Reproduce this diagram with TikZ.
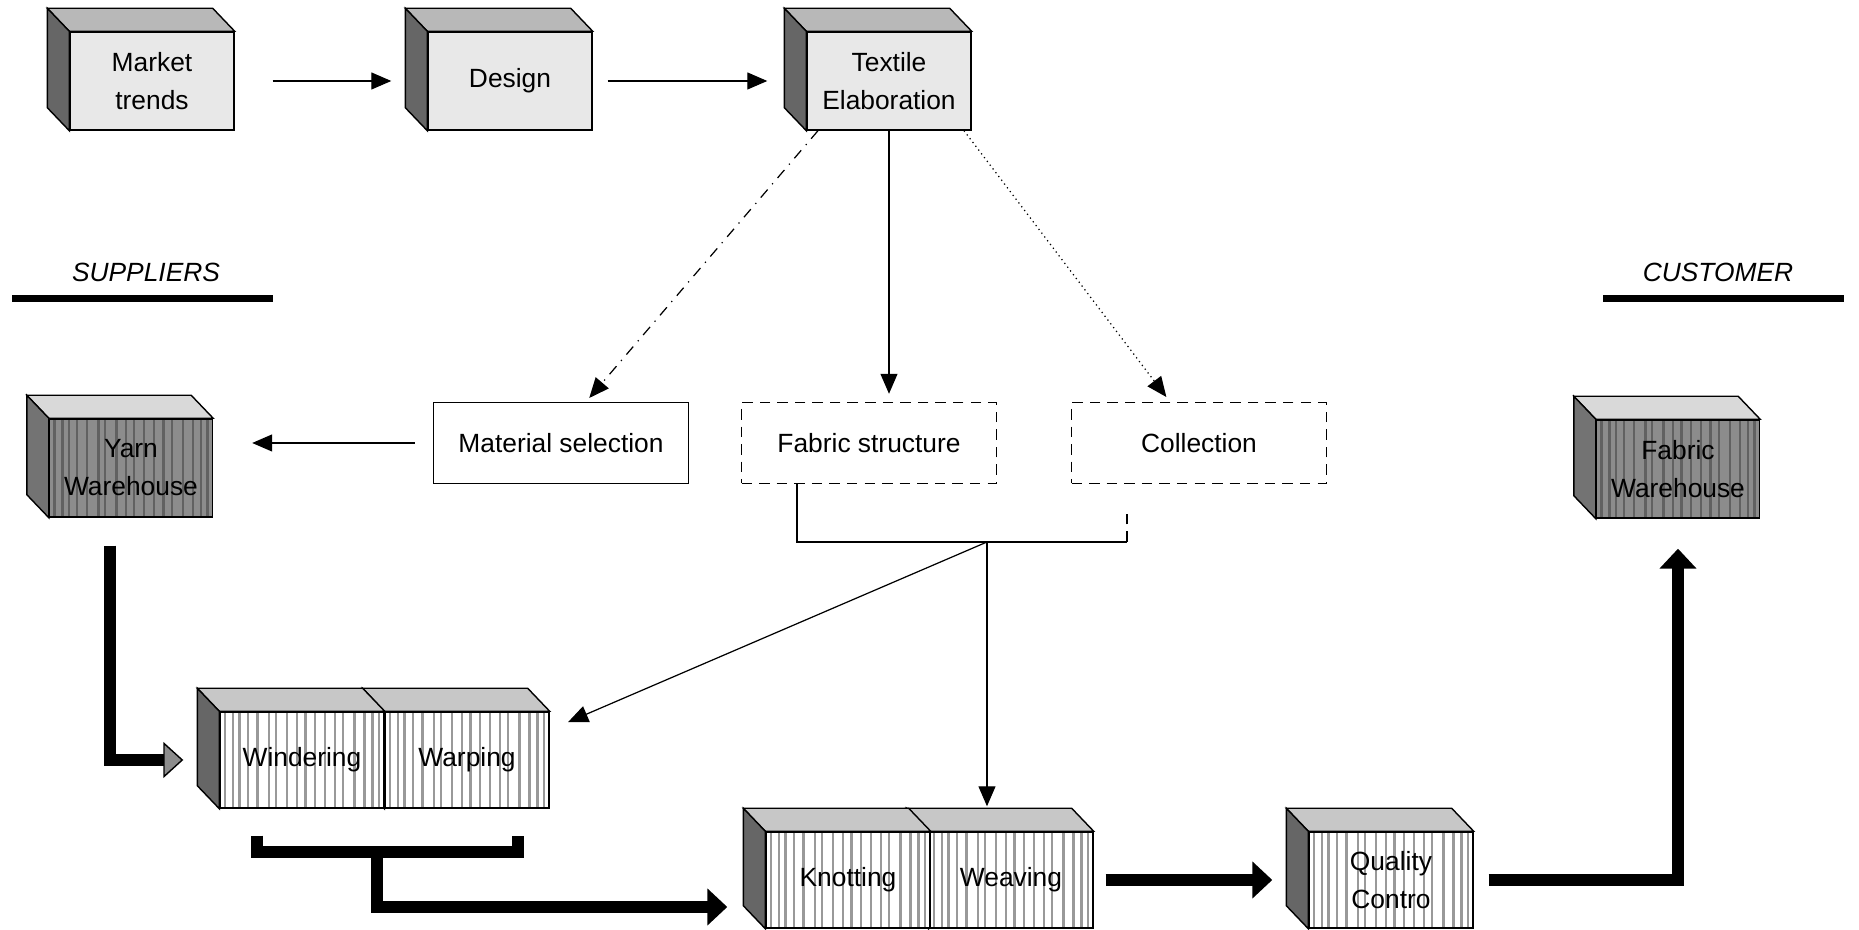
\documentclass[tikz,border=0pt]{standalone}
\usepackage{fontspec}
\setmainfont{Liberation Sans}
\usetikzlibrary{arrows.meta,calc}

\tikzset{
  face/.style={draw, line width=0.4pt, inner sep=0pt, align=center},
  stripes/.style={path picture={
      \foreach \s in {0.03,0.08,0.12,0.17,0.23,0.3,0.34,0.41,0.47,0.52,0.58,0.64,0.7,0.75,0.82,0.88,0.93,0.97}
        \draw[#1, line width=0.7pt] ($(path picture bounding box.south west)!\s!(path picture bounding box.south east)$)
          -- ($(path picture bounding box.north west)!\s!(path picture bounding box.north east)$);}},
  plainbox/.style={face, minimum width=25.5mm, minimum height=8.1mm},
  topbox/.style={face, fill=black!9, minimum width=16.4mm, minimum height=9.8mm},
  loombox/.style={face, fill=white, minimum width=16.4mm, minimum height=9.6mm, stripes=black!40},
  storebox/.style={face, fill=black!45, minimum width=16.3mm, minimum height=9.8mm, stripes=black!62},
  link/.style={line width=0.35pt, -{Triangle[length=2mm,width=1.7mm]}},
  flow/.style={line width=3.4pt, line join=miter},
  flowarrow/.style={flow, -{Triangle[length=2mm,width=3.6mm]}},
  header/.style={font=\fontsize{7.5}{9}\selectfont\itshape},
  underbar/.style={line width=2pt}
}

% top and left faces of a box, drawn from its front node
\newcommand\cubefaces[3]{%
  \filldraw[fill=#2, line width=0.4pt] (#1.north west) -- ++(-22,-23)
    -- ($(#1.north east)+(-22,-23)$) -- (#1.north east) -- cycle;
  \filldraw[fill=#3, line width=0.4pt] (#1.north west) -- ++(-22,-23)
    -- ($(#1.south west)+(-22,-23)$) -- (#1.south west) -- cycle;}

\begin{document}
\begin{tikzpicture}[x=0.1mm, y=-0.1mm, font=\fontsize{7.5}{10.8}\selectfont]
  \useasboundingbox (0,0) rectangle (1859,930);

  % top row
  \node[topbox] (mkt) at (152,81) {Market\\trends};
  \cubefaces{mkt}{black!28}{black!60}
  \node[topbox] (dsg) at (510,81) {Design};
  \cubefaces{dsg}{black!28}{black!60}
  \node[topbox] (tex) at (889,81) {Textile\\Elaboration};
  \cubefaces{tex}{black!28}{black!60}
  \draw[link, shorten <=3.8mm, shorten >=3.6mm] (mkt) -- (dsg);
  \draw[link, shorten <=1.5mm, shorten >=3.9mm] (dsg) -- (tex);

  % sides
  \node[header] (sup) at (146,272) {SUPPLIERS};
  \node[header] (cus) at (1718,272) {CUSTOMER};
  \draw[underbar] (12,299) -- (273,299);
  \draw[underbar] (1603,299) -- (1844,299);

  % planning boxes
  \node[plainbox] (mat) at (561,443) {Material selection};
  \node[plainbox, densely dashed] (fab) at (869,443) {Fabric structure};
  \node[plainbox, densely dashed] (col) at (1199,443) {Collection};
  \draw[link, dash dot, shorten >=0.5mm] ([xshift=-7.1mm]tex.south) -- ([xshift=2.5mm]mat.north);
  \draw[link, shorten >=0.8mm] (tex.south) -- (tex.south |- fab.north);
  \draw[link, densely dotted, shorten >=0.6mm] ([xshift=7.5mm]tex.south) -- ([xshift=-2.9mm]col.north);

  % warehouses
  \node[storebox] (yarn) at (131,468) {Yarn\\Warehouse};
  \cubefaces{yarn}{black!15}{black!55}
  \node[storebox] (fwh) at (1678,469) {Fabric\\Warehouse};
  \cubefaces{fwh}{black!15}{black!55}
  \draw[link, shorten <=1.8mm, shorten >=3.9mm] (mat.west) -- (mat.west -| yarn.east);

  % production
  \node[loombox] (wrp) at (467,760) {Warping};
  \cubefaces{wrp}{black!22}{black!60}
  \node[loombox] (wnd) at (302,760) {Windering};
  \cubefaces{wnd}{black!22}{black!60}
  \node[loombox] (wea) at (1011,880) {Weaving};
  \cubefaces{wea}{black!22}{black!60}
  \node[loombox] (knt) at (848,880) {Knotting};
  \cubefaces{knt}{black!22}{black!60}
  \node[loombox] (qc) at (1391,880) {Quality\\Contro};
  \cubefaces{qc}{black!22}{black!60}

  % fork under the planning boxes
  \coordinate (fabarm) at ([xshift=-7.2mm]fab.south);
  \coordinate (colarm) at ([xshift=-7.2mm,yshift=-2.3mm]col.south);
  \coordinate (fork) at (987,542);
  \draw[line width=0.35pt] (fabarm) |- (fork) -- (fork -| colarm);
  \draw[line width=0.35pt, densely dashed] (fork -| colarm) -- (colarm);
  \draw[link, shorten >=2.5mm] (fork) -- (fork |- wea.north);
  \draw[link, shorten >=2mm] (fork) -- ([yshift=3mm]wrp.east);

  % material flow
  \draw[flow, -{Triangle[length=2mm,width=3.6mm,fill=black!45,line width=0.4pt]},
    shorten <=2.8mm, shorten >=3.6mm] ([xshift=-2.1mm]yarn.south) |- (wnd.west);
  \coordinate (wl) at ([xshift=-4.5mm,yshift=-2.7mm]wnd.south);
  \coordinate (wr) at ([xshift=5.1mm,yshift=-2.7mm]wrp.south);
  \coordinate (wwfork) at (377,852);
  \draw[flow] (wl) -- (wl |- wwfork) -| (wr);
  \draw[flowarrow, shorten >=3.8mm] (wwfork) |- ([yshift=-2.7mm]knt.west);
  \draw[flowarrow, shorten <=1.2mm, shorten >=3.6mm] (wea.east) -- (qc.west);
  \draw[flowarrow, shorten <=1.5mm, shorten >=3mm] (qc.east) -| (fwh.south);
\end{tikzpicture}
\end{document}
